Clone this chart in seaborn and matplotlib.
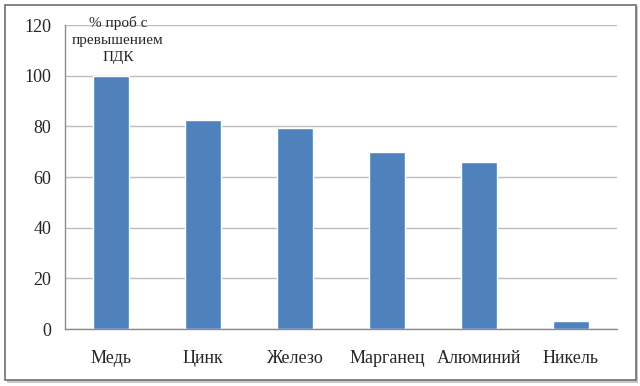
import matplotlib
matplotlib.use('Agg')
import matplotlib.pyplot as plt
import seaborn as sns
import pandas as pd
from matplotlib.patches import Rectangle

# данные
elements = ['Медь', 'Цинк', 'Железо', 'Марганец', 'Алюминий', 'Никель']
percent = [100, 82.5, 79.4, 69.9, 65.9, 3.2]
yticks = [0, 20, 40, 60, 80, 100, 120]
title_text = '% проб с\nпревышением\nПДК'

sns.set_style('white')
plt.rcParams['font.family'] = ['Liberation Serif', 'DejaVu Serif']

df = pd.DataFrame({'element': elements, 'percent': percent})

fig = plt.figure(figsize=(6.4, 3.86), dpi=100)
ax = fig.add_axes([65 / 640, 57 / 386, 552 / 640, 304 / 386])

sns.barplot(data=df, x='element', y='percent', color='#4F81BD', width=0.4,
            saturation=1, ax=ax)

ax.set_xlim(-0.5, len(elements) - 0.5)
ax.set_ylim(0, 120)
ax.set_yticks(yticks)
ax.yaxis.grid(True, color='#BDBDBD', linewidth=1)
ax.set_axisbelow(True)
ax.set_xlabel('')
ax.set_ylabel('')

for s in ['top', 'right']:
    ax.spines[s].set_visible(False)
for s in ['left', 'bottom']:
    ax.spines[s].set_color('#8C8C8C')
    ax.spines[s].set_linewidth(1)

ax.set_xticks([i - 0.5 for i in range(len(elements) + 1)], minor=True)
ax.tick_params(axis='x', which='major', length=0, labelsize=13, pad=15)
ax.tick_params(axis='x', which='minor', length=5, color='#8C8C8C', direction='out')
ax.tick_params(axis='y', length=4, color='#8C8C8C', direction='out', labelsize=13, pad=6)

fig.text(118 / 640, 1 - 40 / 386, title_text, ha='center', va='center',
         multialignment='center', fontsize=11, linespacing=1.4)

# рамка с тенью
fig.patches.append(Rectangle((7 / 640, 3 / 386), 631 / 640, 377 / 386,
                             transform=fig.transFigure, facecolor='#C8C8C8',
                             edgecolor='none', zorder=-2))
fig.patches.append(Rectangle((5 / 640, 6 / 386), 631 / 640, 375 / 386,
                             transform=fig.transFigure, facecolor='white',
                             edgecolor='#6E6E6E', linewidth=1.2, zorder=-1))

fig.savefig('out.png', dpi=100)
